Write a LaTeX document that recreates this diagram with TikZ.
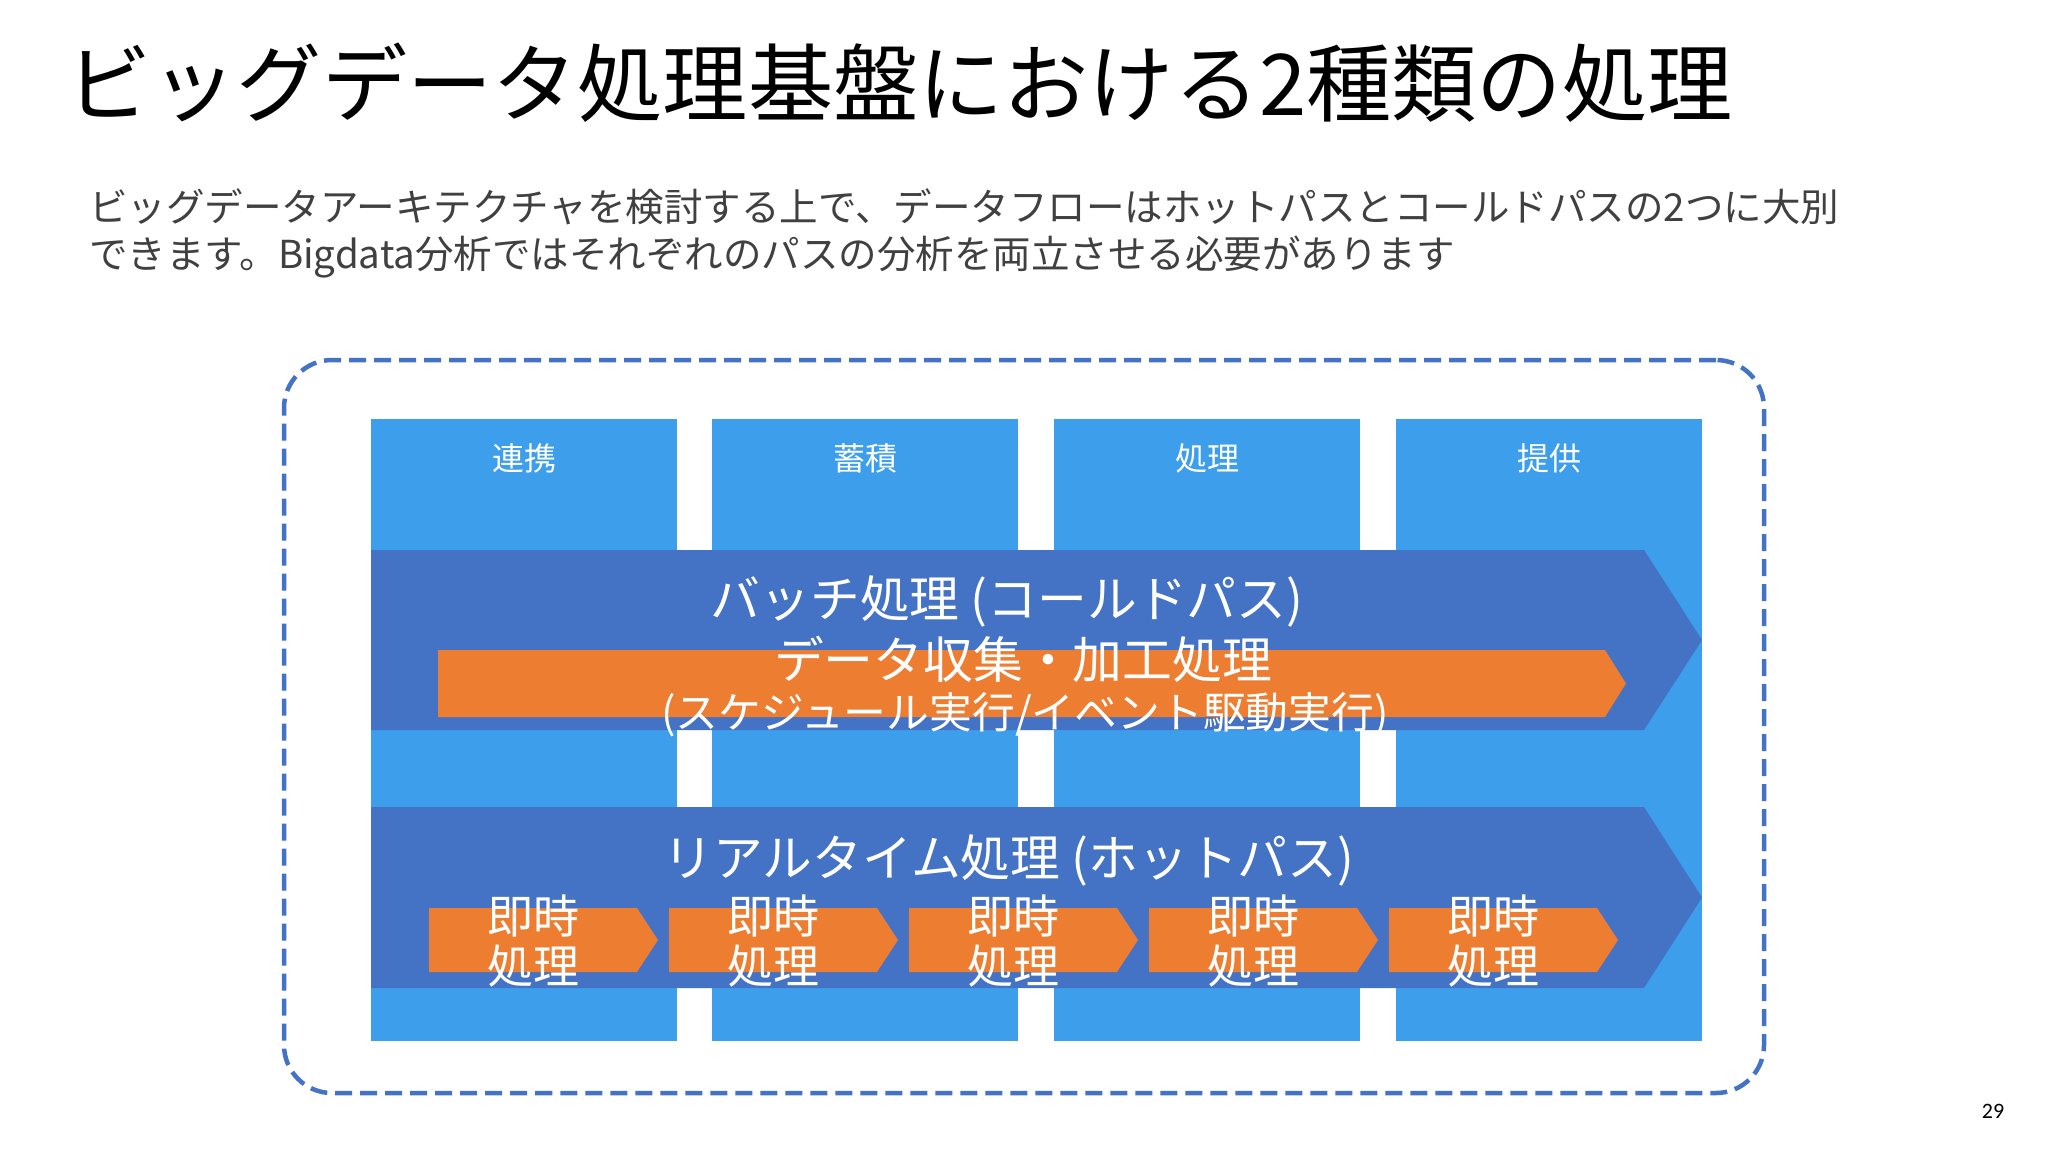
\documentclass[tikz,border=0pt]{standalone}
\usepackage{fontspec}
\setmainfont{Noto Sans CJK JP}
\newfontfamily\numfont{Carlito}
\definecolor{colblue}{RGB}{61,158,235}
\definecolor{darkblue}{RGB}{68,114,196}
\definecolor{orangeA}{RGB}{237,125,49}
\definecolor{subgray}{RGB}{64,64,64}
\begin{document}
\begin{tikzpicture}[x=0.5pt,y=-0.5pt,
  colbox/.style={fill=colblue, draw=none, rectangle, inner sep=0pt, minimum width=153pt, minimum height=311pt, anchor=north west},
  lbl/.style={text=white, inner sep=0pt, anchor=base},
  frame/.style={draw=darkblue, line width=2.25pt, dash pattern=on 8.5pt off 4pt, rounded corners=24pt, rectangle, inner sep=0pt, minimum width=740pt, minimum height=366.5pt},
  bigarrow/.style={fill=darkblue},
  orarrow/.style={fill=orangeA},
]
\path[use as bounding box] (0,0) rectangle (2048,1152);
\fill[white] (0,0) rectangle (2048,1152);

% title and subtitle
\node[anchor=base west, inner sep=0pt, text=black, font=\fontsize{42.6pt}{50pt}\selectfont] (title) at (66,115) {ビッグデータ処理基盤における2種類の処理};
\node[anchor=base west, inner sep=0pt, text=subgray, font=\fontsize{19.25pt}{23pt}\selectfont] (sub1) at (89,221) {ビッグデータアーキテクチャを検討する上で、データフローはホットパスとコールドパスの2つに大別};
\node[anchor=base west, inner sep=0pt, text=subgray, font=\fontsize{19.25pt}{23pt}\selectfont] (sub2) at (89,268) {できます。Bigdata分析ではそれぞれのパスの分析を両立させる必要があります};

% dashed frame
\node[frame] (fr) at (1024,726.5) {};

% columns
\node[colbox] (c1) at (371,419) {};
\node[colbox] (c2) at (712,419) {};
\node[colbox] (c3) at (1054,419) {};
\node[colbox] (c4) at (1396,419) {};
\node[lbl, font=\fontsize{16pt}{19pt}\selectfont] (h1) at (524,470) {連携};
\node[lbl, font=\fontsize{16pt}{19pt}\selectfont] (h2) at (865,470) {蓄積};
\node[lbl, font=\fontsize{16pt}{19pt}\selectfont] (h3) at (1207,470) {処理};
\node[lbl, font=\fontsize{16pt}{19pt}\selectfont] (h4) at (1549,470) {提供};

% batch arrow
\fill[bigarrow] (371,550) -- (1644,550) -- (1702,640) -- (1644,730) -- (371,730) -- cycle;
\fill[orarrow] (438,650) -- (1605,650) -- (1626,683.5) -- (1605,717) -- (438,717) -- cycle;
\node[lbl, font=\fontsize{24.9pt}{30pt}\selectfont] (bt1) at (1007,617) {バッチ処理 (コールドパス)};
\node[lbl, font=\fontsize{24.9pt}{30pt}\selectfont] (bt2) at (1023,678) {データ収集・加工処理};
\node[lbl, font=\fontsize{21.4pt}{25pt}\selectfont] (bt3) at (1025,728) {(スケジュール実行/イベント駆動実行)};

% realtime arrow
\fill[bigarrow] (371,807) -- (1644,807) -- (1702,897.5) -- (1644,988) -- (371,988) -- cycle;
\node[lbl, font=\fontsize{24.9pt}{30pt}\selectfont] (rtt) at (1009,876) {リアルタイム処理 (ホットパス)};

\foreach \i [evaluate=\i as \xa using 429+240*\i] in {0,...,4} {
  \fill[orarrow] (\xa,908) -- ++(208,0) -- ++(21,32) -- ++(-21,32) -- ++(-208,0) -- cycle;
  \node[lbl, font=\fontsize{23pt}{25pt}\selectfont] (rta\i) at (\xa+104,933) {即時};
  \node[lbl, font=\fontsize{23pt}{25pt}\selectfont] (rtb\i) at (\xa+104,983) {処理};
}

% page number
\node[anchor=base, inner sep=0pt, text=black, font=\numfont\fontsize{11pt}{13pt}\selectfont] (pn) at (1993,1118) {29};
\end{tikzpicture}
\end{document}
